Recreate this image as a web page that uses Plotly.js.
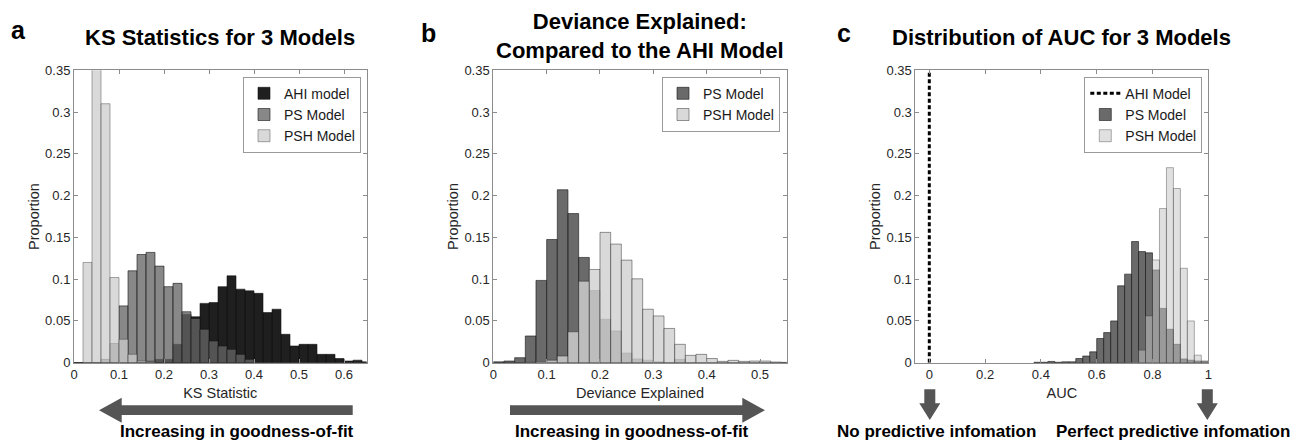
<!DOCTYPE html>
<html>
<head>
<meta charset="utf-8">
<script src="https://cdn.plot.ly/plotly-3.0.1.min.js"></script>
<style>
html,body{margin:0;padding:0;background:#fff;}
#chart{width:1292px;height:441px;}
</style>
</head>
<body>
<div id="chart"></div>
<script>
// ---------- Data ----------
// Panel a: KS statistic histograms (bin left edges, width 0.02)
const ksBins = [0.00,0.02,0.04,0.06,0.08,0.10,0.12,0.14,0.16,0.18,0.20,0.22,0.24,0.26,0.28,0.30,0.32,0.34,0.36,0.38,0.40,0.42,0.44,0.46,0.48,0.50,0.52,0.54,0.56,0.58,0.60,0.62,0.64];
const ksAhi  = [0,0,0,0,0,0,0,0.001,0.002,0.004,0.004,0.022,0.058,0.055,0.071,0.072,0.091,0.104,0.088,0.086,0.083,0.060,0.064,0.034,0.020,0.022,0.022,0.010,0.010,0.005,0.002,0.003,0.001];
const ksPs   = [0,0,0,0.004,0.023,0.068,0.110,0.1295,0.132,0.1156,0.091,0.095,0.061,0.053,0.040,0.026,0.020,0.016,0.010,0.004,0,0,0,0,0,0,0,0,0,0,0,0,0];
const ksPsh  = [0,0.120,0.37,0.310,0.102,0.028,0.010,0.002,0.001,0,0,0,0,0,0,0,0,0,0,0,0,0,0,0,0,0,0,0,0,0,0,0,0];
const ksBinWidth = 0.02;

// Panel b: deviance explained histograms (bin left edges, width 0.02)
const devBins = [0.00,0.02,0.04,0.06,0.08,0.10,0.12,0.14,0.16,0.18,0.20,0.22,0.24,0.26,0.28,0.30,0.32,0.34,0.36,0.38,0.40,0.42,0.44,0.46,0.48,0.50,0.52,0.54];
const devPs  = [0.001,0.002,0.006,0.032,0.0985,0.1475,0.207,0.1785,0.126,0.0865,0.052,0.038,0.0115,0.0045,0.003,0.001,0,0.004,0,0,0,0,0,0,0,0,0,0];
const devPsh = [0,0,0,0.0005,0.0015,0.003,0.008,0.037,0.0976,0.1116,0.156,0.142,0.1228,0.1004,0.064,0.056,0.041,0.022,0.0088,0.010,0.005,0.0016,0.0028,0.0016,0.002,0.002,0.0008,0.0004];
const devBinWidth = 0.02;

// Panel c: AUC histograms (bin left edges, width 0.025) and AHI model AUC reference
const aucBins = [0.375,0.400,0.425,0.450,0.475,0.500,0.525,0.550,0.575,0.600,0.625,0.650,0.675,0.700,0.725,0.750,0.775,0.800,0.825,0.850,0.875,0.900,0.925,0.950,0.975];
const aucPs  = [0.0005,0.0005,0.0015,0.0005,0.001,0.001,0.005,0.008,0.013,0.029,0.036,0.050,0.092,0.106,0.145,0.133,0.1315,0.111,0.065,0.040,0.022,0.0045,0.003,0.002,0.0015];
const aucPsh = [0,0,0,0,0,0,0,0,0,0,0,0,0,0.0005,0.001,0.015,0.056,0.123,0.1845,0.2335,0.2085,0.113,0.050,0.009,0.002];
const aucBinWidth = 0.025;
const aucAhi = 0;          // AHI model AUC position (dashed line)
const yTop = 0.35;

// Labels
const panelTitles = ["KS Statistics for 3 Models", "Deviance Explained:<br>Compared to the AHI Model", "Distribution of AUC for 3 Models"];
const panelLetters = ["a", "b", "c"];
const xTitles = ["KS Statistic", "Deviance Explained", "AUC"];
const yTitle = "Proportion";

// ---------- Layout helpers ----------
const W = 1292, H = 441;
const fx = p => p / W;
const fy = p => 1 - p / H;
const FONT = "Liberation Sans, Arial, Helvetica, sans-serif";
const LINE = "rgba(20,20,20,0.75)";

function bars(x, y, w, name, color, xa, ya, leg, lineColor) {
  return {
    type: 'bar', x: x, y: y, width: w, offset: 0, name: name,
    xaxis: xa, yaxis: ya, legend: leg,
    marker: {color: color, line: {color: lineColor || LINE, width: 0.8}}
  };
}

const traces = [
  bars(ksBins, ksAhi, ksBinWidth, 'AHI model', 'rgba(0,0,0,0.88)', 'x', 'y', 'legend'),
  bars(ksBins, ksPs, ksBinWidth, 'PS Model', 'rgba(100,100,100,0.77)', 'x', 'y', 'legend'),
  bars(ksBins, ksPsh, ksBinWidth, 'PSH Model', 'rgba(204,204,204,0.745)', 'x', 'y', 'legend', 'rgba(60,60,60,0.55)'),

  bars(devBins, devPs, devBinWidth, 'PS Model', 'rgba(80,80,80,0.85)', 'x2', 'y2', 'legend2'),
  bars(devBins, devPsh, devBinWidth, 'PSH Model', 'rgba(208,208,208,0.81)', 'x2', 'y2', 'legend2', 'rgba(40,40,40,0.6)'),

  {type: 'scatter', mode: 'lines', x: [aucAhi, aucAhi], y: [0, yTop], name: 'AHI Model',
   xaxis: 'x3', yaxis: 'y3', legend: 'legend3',
   line: {color: '#000', width: 3, dash: '4px,2.5px'}},
  bars(aucBins, aucPs, aucBinWidth, 'PS Model', 'rgba(80,80,80,0.85)', 'x3', 'y3', 'legend3'),
  bars(aucBins, aucPsh, aucBinWidth, 'PSH Model', 'rgba(196,196,196,0.53)', 'x3', 'y3', 'legend3', 'rgba(60,60,60,0.5)')
];

const yDom = [fy(362.7), fy(70.3)];
function xAxis(dom, range, dtick, title, anchor) {
  return {
    domain: dom, range: range, dtick: dtick, tick0: 0, anchor: anchor,
    showgrid: false, zeroline: false,
    showline: true, mirror: 'ticks', linecolor: '#8c8c8c', linewidth: 1,
    ticks: 'inside', ticklen: 4, tickcolor: '#8c8c8c', tickwidth: 1,
    tickfont: {family: FONT, size: 13, color: '#262626'},
    title: {text: title, font: {family: FONT, size: 14.5, color: '#262626'}, standoff: 6},
    automargin: false, fixedrange: true
  };
}
function yAxis(anchor) {
  return {
    domain: yDom, range: [0, yTop], dtick: 0.05, tick0: 0, anchor: anchor,
    showgrid: false, zeroline: false,
    showline: true, mirror: 'ticks', linecolor: '#8c8c8c', linewidth: 1,
    ticks: 'inside', ticklen: 4, tickcolor: '#8c8c8c', tickwidth: 1,
    tickfont: {family: FONT, size: 13, color: '#262626'},
    title: {text: yTitle, font: {family: FONT, size: 14.5, color: '#262626'}, standoff: 2},
    automargin: false, fixedrange: true
  };
}
function legendBox(rightPx) {
  return {
    x: fx(rightPx), y: fy(76.7), xanchor: 'right', yanchor: 'top',
    bgcolor: '#ffffff', bordercolor: '#9a9a9a', borderwidth: 1,
    font: {family: FONT, size: 14, color: '#1a1a1a'},
    tracegroupgap: 0, itemwidth: 30, traceorder: 'normal'
  };
}

function arrowH(x0, headBase, tip, cy) {
  // horizontal arrow: shaft from x0 to headBase, head from headBase to tip
  const s = 4.85, h = 12.5;
  const pts = [[x0, cy - s], [headBase, cy - s], [headBase, cy - h], [tip, cy], [headBase, cy + h], [headBase, cy + s], [x0, cy + s]];
  return {type: 'path', xref: 'paper', yref: 'paper', fillcolor: '#555555', line: {width: 0},
    path: 'M' + pts.map(p => fx(p[0]) + ',' + fy(p[1])).join(' L') + ' Z'};
}
function arrowDown(cx) {
  const s = 5.5, h = 10.5, y0 = 389.3, yb = 403.3, yt = 420;
  const pts = [[cx - s, y0], [cx + s, y0], [cx + s, yb], [cx + h, yb], [cx, yt], [cx - h, yb], [cx - s, yb]];
  return {type: 'path', xref: 'paper', yref: 'paper', fillcolor: '#555555', line: {width: 0},
    path: 'M' + pts.map(p => fx(p[0]) + ',' + fy(p[1])).join(' L') + ' Z'};
}

function ann(text, xPx, yPx, size, opts) {
  return Object.assign({
    text: text, x: fx(xPx), y: fy(yPx), xref: 'paper', yref: 'paper',
    xanchor: 'center', yanchor: 'middle', showarrow: false,
    font: {family: FONT, size: size, color: '#000', weight: 'bold'}
  }, opts || {});
}

const layout = {
  width: W, height: H,
  margin: {l: 0, r: 0, t: 0, b: 0},
  paper_bgcolor: '#fff', plot_bgcolor: '#fff',
  barmode: 'overlay', bargap: 0,
  hovermode: false,
  font: {family: FONT, color: '#262626'},
  xaxis: xAxis([fx(74), fx(366.5)], [0, 0.65], 0.1, xTitles[0], 'y'),
  yaxis: yAxis('x'),
  xaxis2: xAxis([fx(493.3), fx(786.7)], [0, 0.55], 0.1, xTitles[1], 'y2'),
  yaxis2: yAxis('x2'),
  xaxis3: xAxis([fx(915.35), fx(1208.3)], [-0.05, 1], 0.2, xTitles[2], 'y3'),
  yaxis3: yAxis('x3'),
  legend: legendBox(361),
  legend2: legendBox(780),
  legend3: legendBox(1202.3),
  shapes: [
    arrowH(352.7, 121.7, 99, 410.2),
    arrowH(510, 742.3, 765, 410.2),
    arrowDown(929.8),
    arrowDown(1207.3)
  ],
  annotations: [
    ann(panelTitles[0], 220.25, 38, 22),
    ann(panelTitles[1], 640, 35.5, 22),
    ann(panelTitles[2], 1061.8, 38, 22),
    ann(panelLetters[0], 18.3, 29.6, 25),
    ann(panelLetters[1], 428, 33.3, 25),
    ann(panelLetters[2], 843.7, 33.3, 25),
    ann("Increasing in goodness-of-fit", 237.2, 431.3, 17),
    ann("Increasing in goodness-of-fit", 631.8, 431.3, 17),
    ann("No predictive infomation", 936, 431.3, 17),
    ann("Perfect predictive infomation", 1173.3, 431.3, 17)
  ]
};

Plotly.newPlot('chart', traces, layout, {staticPlot: true, displayModeBar: false});
</script>
</body>
</html>
